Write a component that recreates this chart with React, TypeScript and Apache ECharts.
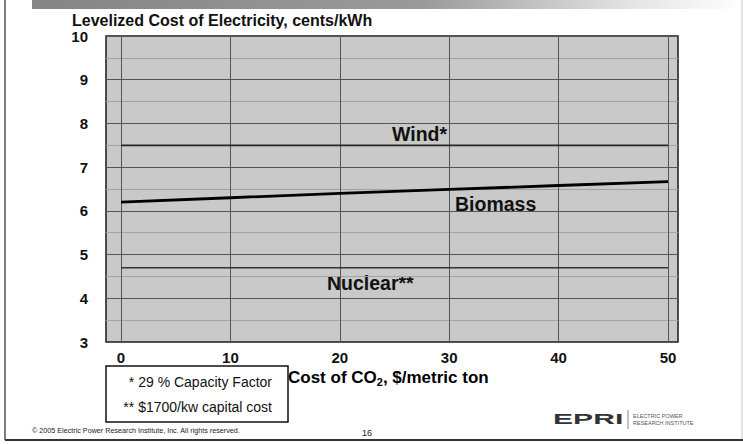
import React, { useEffect, useRef } from "react";
import * as echarts from "echarts";

const co2Cost = [0, 10, 20, 30, 40, 50];
const windCost = [7.5, 7.5, 7.5, 7.5, 7.5, 7.5];
const biomassCost = [6.2, 6.3, 6.4, 6.49, 6.58, 6.67];
const nuclearCost = [4.7, 4.7, 4.7, 4.7, 4.7, 4.7];
const seriesNames = ["Wind*", "Biomass", "Nuclear**"];
const footnotes = ["* 29 % Capacity Factor", "** $1700/kw capital cost"];
const chartTitle = "Levelized Cost of Electricity, cents/kWh";
const footerText = "© 2005 Electric Power Research Institute, Inc. All rights reserved.";
const pageNumber = "16";

const FONT = "'Liberation Sans', Arial, sans-serif";

export default function App() {
  const ref = useRef<HTMLDivElement>(null);
  useEffect(() => {
    if (!ref.current) return;
    const chart = echarts.init(ref.current, undefined, { renderer: "svg" });
    const pairs = (ys: number[]) => co2Cost.map((x, i) => [x, ys[i]]);
    chart.setOption({
      animation: false,
      backgroundColor: "#ffffff",
      textStyle: { fontFamily: FONT },
      grid: [
        {
          left: 106, top: 36, width: 572, height: 306,
          show: true, backgroundColor: "#c9c9c9", borderColor: "#1a1a1a", borderWidth: 1.5,
        },
        { left: 121, top: 36, width: 547, height: 306 },
      ],
      xAxis: [
        { gridIndex: 0, type: "value", min: 0, max: 1, show: false },
        {
          gridIndex: 1, type: "value", min: 0, max: 50, interval: 10,
          axisLine: { show: false }, axisTick: { show: false },
          axisLabel: { fontFamily: FONT, fontWeight: "bold", fontSize: 15, color: "#111", margin: 8 },
          splitLine: { show: true, lineStyle: { color: "#555", width: 1 } },
        },
      ],
      yAxis: [
        {
          gridIndex: 0, type: "value", min: 3, max: 10, interval: 1,
          axisLine: { show: false }, axisTick: { show: false },
          axisLabel: {
            fontFamily: FONT, fontWeight: "bold", fontSize: 15, color: "#111", margin: 18,
            padding: [5, 0, 0, 0],
          },
          splitLine: { show: true, lineStyle: { color: "#555", width: 1 } },
          minorTick: { show: false, splitNumber: 2 },
          minorSplitLine: { show: true, lineStyle: { color: "#a2a2a2", width: 1 } },
        },
        { gridIndex: 1, type: "value", min: 3, max: 10, show: false },
      ],
      series: [
        {
          name: seriesNames[0], type: "line", xAxisIndex: 1, yAxisIndex: 1,
          data: pairs(windCost), showSymbol: false, lineStyle: { color: "#262626", width: 1.7 },
        },
        {
          name: seriesNames[1], type: "line", xAxisIndex: 1, yAxisIndex: 1,
          data: pairs(biomassCost), showSymbol: false, lineStyle: { color: "#000", width: 2.8 },
        },
        {
          name: seriesNames[2], type: "line", xAxisIndex: 1, yAxisIndex: 1,
          data: pairs(nuclearCost), showSymbol: false, lineStyle: { color: "#333", width: 1.6 },
        },
      ],
      graphic: [
        {
          type: "rect", shape: { x: 32, y: 0, width: 711, height: 9 }, silent: true,
          style: {
            fill: new echarts.graphic.LinearGradient(0, 0, 1, 0, [
              { offset: 0, color: "#858585" },
              { offset: 0.55, color: "#9a9a9a" },
              { offset: 0.85, color: "#e6e6e6" },
              { offset: 1, color: "#ffffff" },
            ]),
          },
        },
        { type: "line", shape: { x1: 5, y1: 0, x2: 5, y2: 440 }, style: { stroke: "#555", lineWidth: 1.5 } },
        { type: "line", shape: { x1: 742, y1: 0, x2: 742, y2: 440 }, style: { stroke: "#c8c8c8", lineWidth: 1 } },
        { type: "line", shape: { x1: 5, y1: 440, x2: 743, y2: 440 }, style: { stroke: "#333", lineWidth: 2 } },
        {
          type: "text", x: 72, y: 20,
          style: { text: chartTitle, font: `bold 16px ${FONT}`, fill: "#111", verticalAlign: "middle" },
        },
        {
          type: "text", x: 392, y: 134,
          style: { text: seriesNames[0], font: `bold 19.5px ${FONT}`, fill: "#111", verticalAlign: "middle" },
        },
        {
          type: "text", x: 455, y: 204,
          style: { text: seriesNames[1], font: `bold 19.5px ${FONT}`, fill: "#111", verticalAlign: "middle" },
        },
        {
          type: "text", x: 327, y: 283,
          style: { text: seriesNames[2], font: `bold 19.5px ${FONT}`, fill: "#111", verticalAlign: "middle" },
        },
        {
          type: "text", x: 288, y: 377,
          style: {
            text: "{a|Cost of CO}{s|2}{a|, $/metric ton}",
            verticalAlign: "middle",
            rich: {
              a: { fontFamily: FONT, fontWeight: "bold", fontSize: 17, color: "#111", height: 20 },
              s: { fontFamily: FONT, fontWeight: "bold", fontSize: 11, color: "#111", height: 20, padding: [10, 0, 0, 0] },
            },
          },
        },
        {
          type: "rect", shape: { x: 106, y: 366, width: 182, height: 56 },
          style: { fill: "#fff", stroke: "#111", lineWidth: 1.5 },
        },
        {
          type: "text", x: 272, y: 382,
          style: { text: footnotes[0], font: `14px ${FONT}`, fill: "#111", align: "right", verticalAlign: "middle" },
        },
        {
          type: "text", x: 272, y: 407,
          style: { text: footnotes[1], font: `14px ${FONT}`, fill: "#111", align: "right", verticalAlign: "middle" },
        },
        {
          type: "text", x: 32, y: 430,
          style: { text: footerText, font: `7.2px ${FONT}`, fill: "#222", verticalAlign: "middle" },
        },
        {
          type: "text", x: 367, y: 433,
          style: { text: pageNumber, font: `9px ${FONT}`, fill: "#222", align: "center", verticalAlign: "middle" },
        },
        {
          type: "text", x: 553, y: 419, scaleX: 2.15, scaleY: 1,
          style: { text: "EPRI", font: `bold 14px ${FONT}`, fill: "#333", verticalAlign: "middle" },
        },
        { type: "line", shape: { x1: 628, y1: 410, x2: 628, y2: 429 }, style: { stroke: "#888", lineWidth: 1 } },
        {
          type: "text", x: 633, y: 416,
          style: { text: "ELECTRIC POWER", font: `5.5px ${FONT}`, fill: "#555", verticalAlign: "middle" },
        },
        {
          type: "text", x: 633, y: 423,
          style: { text: "RESEARCH INSTITUTE", font: `5.5px ${FONT}`, fill: "#555", verticalAlign: "middle" },
        },
      ],
    });
    return () => chart.dispose();
  }, []);
  return (
    <div
      ref={ref}
      style={{ position: "fixed", left: 0, top: 0, width: 743, height: 444 }}
    />
  );
}
